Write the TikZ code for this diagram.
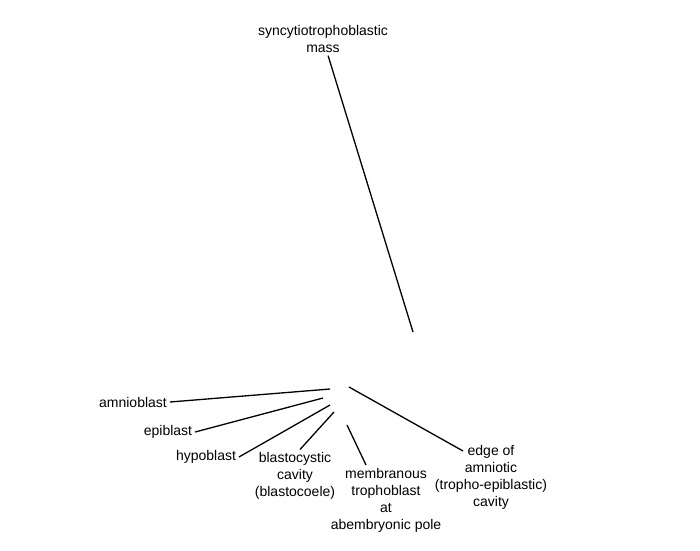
\documentclass[tikz,border=0pt]{standalone}
\usepackage{fontspec}
\setmainfont{Liberation Sans}
\begin{document}
\begin{tikzpicture}[x=1pt,y=-1pt,
  lbl/.style={align=center,inner sep=0pt,outer sep=3pt,font=\fontsize{14}{17}\selectfont},
  pointer/.style={draw=black,line width=1.3pt}]
\useasboundingbox[fill=white] (0,0) rectangle (700,550);
% labels
\node[lbl] (sync) at (323,39) {syncytiotrophoblastic\\mass};
\node[lbl] (amnio) at (133,402) {amnioblast};
\node[lbl] (epi) at (168,432) {epiblast};
\node[lbl] (hypo) at (206,457) {hypoblast};
\node[lbl] (blasto) at (295,476) {blastocystic\\cavity\\(blastocoele)};
\node[lbl] (memb) at (386,500) {membranous\\trophoblast\\at\\abembryonic pole};
\node[lbl] (edge) at (491,477) {edge of\\amniotic\\(tropho-epiblastic)\\cavity};
% pointer tips
\coordinate (tS) at (413,332);
\coordinate (tA) at (330,389);
\coordinate (tE) at (323,398);
\coordinate (tH) at (330,405);
\coordinate (tB) at (334,412);
\coordinate (tM) at (347,425);
\coordinate (tG) at (349,387);
% connectors
\draw[pointer] (sync) -- (tS);
\draw[pointer] (amnio.east) -- (tA);
\draw[pointer] (epi.east) -- (tE);
\draw[pointer] (hypo.east) -- (tH);
\draw[pointer] ([xshift=5pt]blasto.north) -- (tB);
\draw[pointer] ([xshift=-20pt]memb.north) -- (tM);
\draw[pointer] ([xshift=-28pt,yshift=-9pt]edge.north) -- (tG);
\end{tikzpicture}
\end{document}
